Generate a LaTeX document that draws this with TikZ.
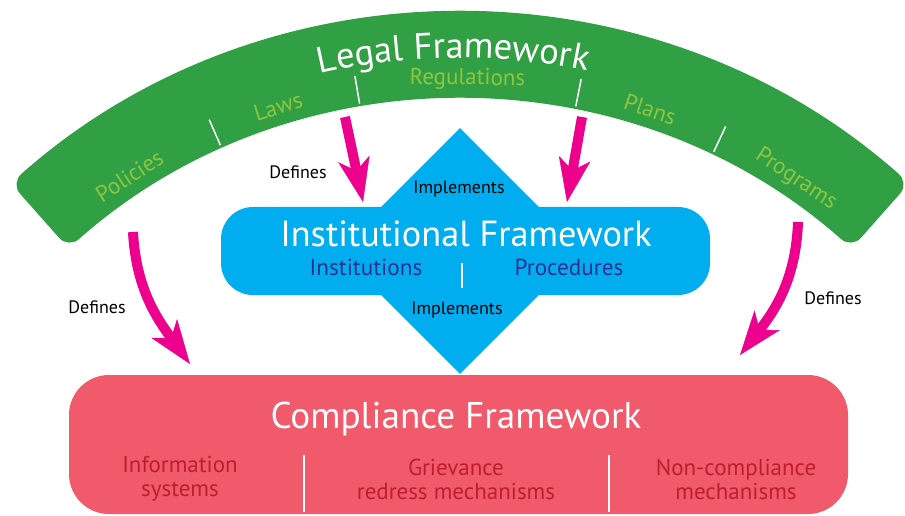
\documentclass[tikz,border=0pt]{standalone}
\usepackage{fontspec}
\setmainfont{PT Sans}
\usetikzlibrary{calc, shapes.geometric, arrows.meta, decorations.text}

\definecolor{lawgreen}{RGB}{49,159,67}
\definecolor{itemgreen}{RGB}{141,198,63}
\definecolor{instblue}{RGB}{0,174,239}
\definecolor{itemblue}{RGB}{46,49,146}
\definecolor{defpink}{RGB}{236,0,140}
\definecolor{comred}{RGB}{240,90,106}
\definecolor{itemred}{RGB}{190,30,45}

\tikzset{
    defarrow/.style={draw=defpink, line width=10pt,
        -{Stealth[length=44pt, width=32pt, inset=12pt, line width=0.5pt]}},
    verb/.style={font=\fontsize{18}{18}\selectfont, text=black},
    bigtitle/.style={font=\fontsize{36.3}{36}\selectfont, text=white},
    lawitem/.style={font=\fontsize{23}{23}\selectfont, text=itemgreen, inner sep=1pt},
    institem/.style={font=\fontsize{23.2}{23}\selectfont, text=itemblue},
    compitem/.style={font=\fontsize{23}{24}\selectfont, text=itemred, align=center},
    sep/.style={draw=white, line width=1.5pt},
}

\begin{document}
\begin{tikzpicture}[x=1pt, y=1pt]
    \useasboundingbox (0,0) rectangle (905,515);

    % legal framework
    \coordinate (hub) at (460,-176);
    \fill [lawgreen, rounded corners=14pt]
        (hub) ++(131.5:678) arc[start angle=131.5, end angle=48.5, radius=678]
        -- ++(228.5:87) arc[start angle=48.5, end angle=131.5, radius=591] -- cycle;
    \path [decorate, decoration={text along path, text align=center,
        text={|\fontsize{36.5}{36}\selectfont\color{white}|Legal Framework}}]
        (hub) ++(132.1:633) arc[start angle=132.1, end angle=49.1, radius=633];
    \foreach \ang/\word/\name in {122.7/Policies/policies, 107.3/Laws/laws,
            89.3/Regulations/regulations, 71.9/Plans/plans, 56.7/Programs/programs} {
        \node (\name) [lawitem, rotate=\ang-90] at ($(hub)+(\ang:612)$) {\word};
    }
    \foreach \ang in {113.7, 99.7, 78.8, 64.8} {
        \draw [sep] (hub) ++(\ang:596) -- ++(\ang:28);
    }

    % institutional framework
    \node (impl) [diamond, aspect=1, minimum width=246pt, minimum height=246pt,
        inner sep=0pt, fill=instblue] at (460,264) {};
    \node (inst) [fill=instblue, rounded corners=32pt, minimum width=489pt,
        minimum height=88pt] at (465.5,264) {};
    \node (insttitle) [bigtitle] at (466,281) {Institutional Framework};
    \node (institutions) [institem] at (366,248) {Institutions};
    \node (procedures) [institem] at (569,248) {Procedures};
    \draw [sep] (462,227) -- (462,252);
    \node (implup) [verb] at (459,326) {Implements};
    \node (impldown) [verb] at (457,205) {Implements};

    % compliance framework
    \node (comp) [fill=comred, rounded corners=40pt, minimum width=779pt,
        minimum height=139pt] at (458.5,70.5) {};
    \node (comptitle) [bigtitle, font=\fontsize{37.2}{37}\selectfont] at (456,96) {Compliance Framework};
    \node (infosys) [compitem] at (180,36) {Information\\systems};
    \node (grievance) [compitem] at (456,36) {Grievance\\redress mechanisms};
    \node (noncomp) [compitem] at (736,36) {Non-compliance\\mechanisms};
    \foreach \x in {304, 609} {
        \draw [sep] (\x,3) -- (\x,60);
    }

    % defines arrows
    \coordinate (lawsfoot) at (345,398);
    \coordinate (plansfoot) at (582,398);
    \coordinate (polfoot) at (133,283);
    \coordinate (progfoot) at (798,293);
    \coordinate (insttipL) at (363,313);
    \coordinate (insttipR) at (567,313);
    \coordinate (comptipL) at (190,151);
    \coordinate (comptipR) at (740,160);
    \draw [defarrow] (lawsfoot) -- (insttipL);
    \draw [defarrow] (plansfoot) -- (insttipR);
    \draw [defarrow] (polfoot) to[out=-87, in=126] (comptipL);
    \draw [defarrow] (progfoot) to[out=-92, in=52] (comptipR);
    \node (defup) [verb] at (298,343) {Defines};
    \node (defleft) [verb] at (97,208) {Defines};
    \node (defright) [verb] at (833,217) {Defines};
\end{tikzpicture}
\end{document}
